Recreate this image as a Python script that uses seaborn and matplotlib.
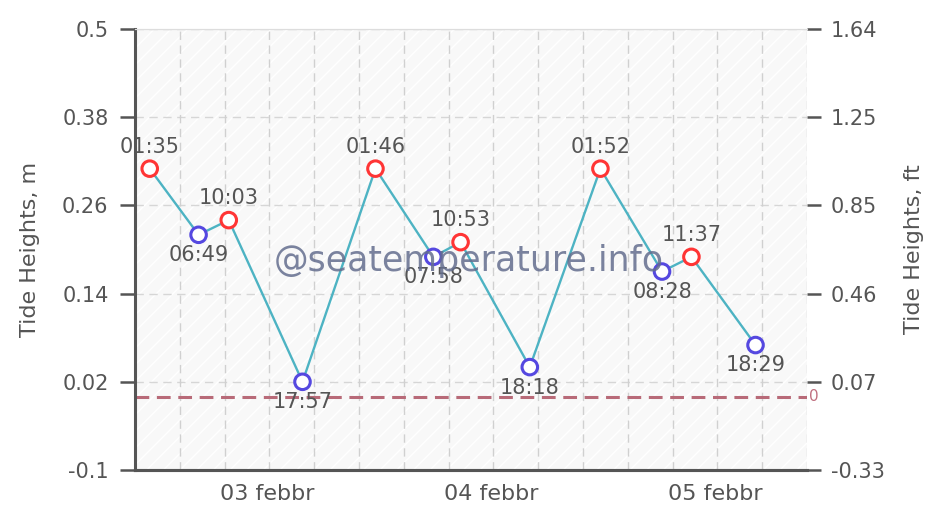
import numpy as np
import pandas as pd
import seaborn as sns
import matplotlib.pyplot as plt
import matplotlib.dates as mdates
from matplotlib.patches import Rectangle
from matplotlib.transforms import blended_transform_factory

sns.set_style("white")
plt.rcParams['font.family'] = ['DejaVu Sans']
plt.rcParams['hatch.linewidth'] = 1.0
plt.rcParams['hatch.color'] = '#d4d4d4'

# tide extremes (time, height in m, high/low)
times = ["2024-02-03 01:35", "2024-02-03 06:49", "2024-02-03 10:03", "2024-02-03 17:57",
         "2024-02-04 01:46", "2024-02-04 07:58", "2024-02-04 10:53", "2024-02-04 18:18",
         "2024-02-05 01:52", "2024-02-05 08:28", "2024-02-05 11:37", "2024-02-05 18:29"]
heights = [0.31, 0.22, 0.24, 0.02, 0.31, 0.19, 0.21, 0.04, 0.31, 0.17, 0.19, 0.07]
kinds = ["high", "low", "high", "low", "high", "low", "high", "low", "high", "low", "high", "low"]
days = ["2024-02-03", "2024-02-04", "2024-02-05"]
day_labels = ["03 febbr", "04 febbr", "05 febbr"]
yticks_m = [-0.1, 0.02, 0.14, 0.26, 0.38, 0.5]
yticks_ft = ["-0.33", "0.07", "0.46", "0.85", "1.25", "1.64"]

df = pd.DataFrame({"time": pd.to_datetime(times), "height": heights, "kind": kinds})

fig = plt.figure(figsize=(9.32, 5.17), dpi=100)
ax = fig.add_axes([0.1448, 0.0909, 0.7211, 0.853])
ax.set_facecolor('#f8f8f8')

start = mdates.date2num(pd.Timestamp(days[0]))
end = start + 3
ax.set_xlim(start, end)
ax.set_ylim(-0.1, 0.5)

# hatched background
ax.add_patch(Rectangle((0, 0), 1, 1, transform=ax.transAxes, facecolor='none',
                       hatch='//', linewidth=0, zorder=0))

# grid
for yt in yticks_m:
    ax.axhline(yt, color='#d6d6d6', lw=1, ls=(0, (6, 4)), zorder=1)
for x in np.arange(start, end + 0.01, 0.2):
    ax.axvline(x, color='#d0d0d0', lw=1, ls=(0, (6, 4)), zorder=1)

# zero line
ax.axhline(0.0, color='#b86a78', lw=2.2, ls=(0, (4.5, 2.5)), zorder=2)
ax.text(1.003, 0.0, "0", transform=blended_transform_factory(ax.transAxes, ax.transData),
        color='#c07080', fontsize=11, va='center', ha='left')

sns.lineplot(data=df, x="time", y="height", color='#4db3c3', lw=1.7, ax=ax, zorder=3)
sns.scatterplot(data=df, x="time", y="height", hue="kind",
                palette={"high": "#ff3535", "low": "#5548e0"},
                s=125, linewidth=2.2, legend=False, ax=ax, zorder=4)
for coll in ax.collections:
    ec = coll.get_facecolors()
    coll.set_edgecolors(ec)
    coll.set_facecolor('white')

for t, h, k in zip(df["time"], heights, kinds):
    lbl = t.strftime("%H:%M")
    if k == "high":
        ax.annotate(lbl, (mdates.date2num(t), h), xytext=(0, 8.5), textcoords='offset points',
                    ha='center', va='bottom', fontsize=15, color='#555555', zorder=5)
    else:
        ax.annotate(lbl, (mdates.date2num(t), h), xytext=(0, -7.5), textcoords='offset points',
                    ha='center', va='top', fontsize=15, color='#555555', zorder=5)

ax.text(0.497, 0.473, "@seatemperature.info", transform=ax.transAxes, ha='center',
        va='center', fontsize=25, color='#646e8e', alpha=0.85, zorder=6)

# x ticks
ax.set_xticks([start + i for i in range(4)])
ax.set_xticks(np.arange(start, end + 0.01, 0.2), minor=True)
ax.set_xticklabels([])
ax.tick_params(axis='x', which='major', length=31, width=1.8, color='#555555', direction='out')
ax.tick_params(axis='x', which='minor', length=11, width=1.8, color='#555555', direction='out')
trans = blended_transform_factory(ax.transData, ax.transAxes)
for d, lab in zip(days, day_labels):
    ax.text(mdates.date2num(pd.Timestamp(d)) + 0.59, -0.054, lab, transform=trans,
            ha='center', va='center', fontsize=16, color='#555555')

# y ticks
ax.set_yticks(yticks_m)
ax.set_yticklabels([str(v) for v in yticks_m])
ax.tick_params(axis='y', length=11, width=1.8, color='#555555', labelcolor='#555555',
               labelsize=15, pad=8)
ax.set_ylabel("Tide Heights, m", color='#555555', fontsize=16, labelpad=16)
ax.set_xlabel("")

ax2 = ax.twinx()
ax2.set_ylim(-0.1, 0.5)
ax2.set_yticks(yticks_m)
ax2.set_yticklabels(yticks_ft)
ax2.tick_params(axis='y', length=10, width=1.8, color='#555555', labelcolor='#555555',
                labelsize=15, pad=7)
ax2.set_ylabel("Tide Heights, ft", color='#555555', fontsize=16, labelpad=14)

for a in (ax, ax2):
    a.spines['right'].set_visible(False)
    a.spines['top'].set_color('#dddddd')
    a.spines['left'].set_color('#555555')
    a.spines['left'].set_linewidth(2.2)
    a.spines['bottom'].set_color('#555555')
    a.spines['bottom'].set_linewidth(2.2)
ax2.spines['left'].set_visible(False)

plt.savefig("out.png", dpi=100)
